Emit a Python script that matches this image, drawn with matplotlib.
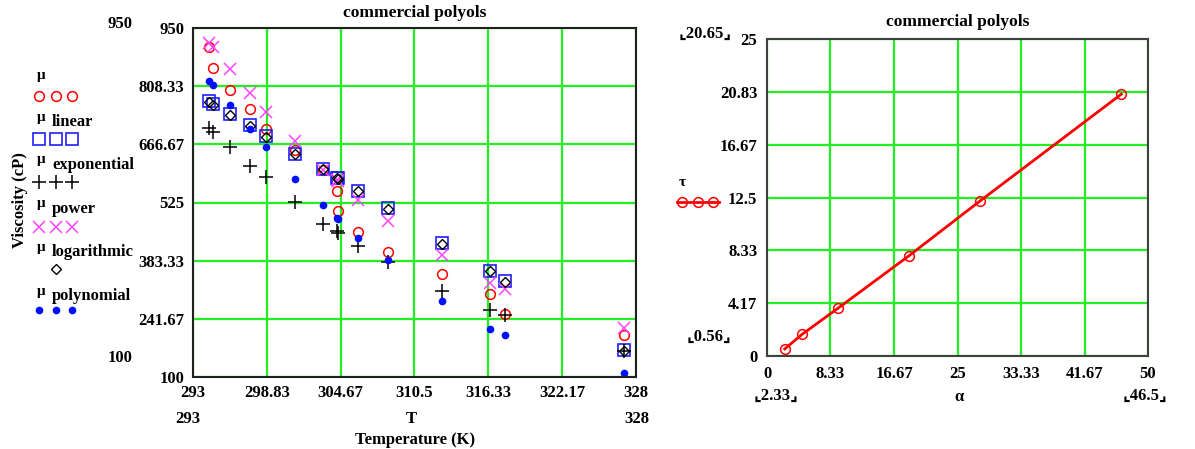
import matplotlib
matplotlib.use("Agg")
import matplotlib.pyplot as plt
from matplotlib.lines import Line2D

# ---------------- data ----------------
T = [294.3, 294.6, 295.95, 297.54, 298.8, 301.07, 303.3, 304.35, 304.45,
     306.0, 308.41, 312.69, 316.46, 317.65, 327.07]
mu = [903, 852, 800, 752, 703, 652, 605, 553, 504, 452, 404, 352, 303, 253, 203]
mu_linear = [772, 764, 740, 713, 686, 644, 607, 585, 584, 553, 512, 426, 359, 334, 165]
mu_exponential = [706, 697, 659, 613, 587, 526, 473, 456, 451, 418, 379, 310, 263, 251, 164]
mu_power = [914, 904, 849, 792, 746, 675, 603, 580, 578, 532, 479, 396, 330, 314, 220]
mu_logarithmic = [770, 762, 738, 711, 684, 643, 606, 584, 583, 552, 510, 424, 357, 332, 163]
mu_polynomial = [821, 812, 762, 703, 660, 583, 518, 488, 486, 439, 385, 286, 217, 202, 110]

T_ticks = [293, 298.83, 304.67, 310.5, 316.33, 322.17, 328]
mu_ticks = [100, 241.67, 383.33, 525, 666.67, 808.33, 950]

alpha = [2.33, 4.65, 9.3, 18.6, 27.9, 46.5]
tau = [0.56, 1.73, 3.76, 7.89, 12.2, 20.65]
alpha_ticks = [0, 8.33, 16.67, 25, 33.33, 41.67, 50]
tau_ticks = [0, 4.17, 8.33, 12.5, 16.67, 20.83, 25]

title = "commercial polyols"

# ---------------- style ----------------
W, H = 1195, 449
plt.rcParams['font.family'] = ['Liberation Serif', 'DejaVu Serif', 'DejaVu Sans']
plt.rcParams['font.weight'] = 'bold'
FS = 12
GREEN = '#22ee22'

fig = plt.figure(figsize=(W / 100, H / 100), dpi=100)


def fx(px):
    return px / W


def fy(py):
    return 1 - py / H


def ftext(px, py, s, **kw):
    kw.setdefault('fontsize', FS)
    kw.setdefault('fontweight', 'bold')
    kw.setdefault('ha', 'center')
    kw.setdefault('va', 'center')
    fig.text(fx(px), fy(py), s, **kw)


# ---------------- left axes ----------------
ax1 = fig.add_axes([fx(193), fy(377), fx(636) - fx(193), fy(28) - fy(377)])
ax1.set_xlim(293, 328)
ax1.set_ylim(100, 950)
ax1.set_xticks(T_ticks)
ax1.set_xticklabels([f"{v:g}" for v in T_ticks])
ax1.set_yticks(mu_ticks)
ax1.set_yticklabels([f"{v:g}" for v in mu_ticks])
ax1.grid(True, color=GREEN, lw=1.6)
ax1.set_axisbelow(True)
ax1.tick_params(length=0, labelsize=FS, pad=6)
for lab in ax1.get_xticklabels() + ax1.get_yticklabels():
    lab.set_fontweight('bold')
for s in ax1.spines.values():
    s.set_color('#202020')
    s.set_linewidth(1.5)

ax1.plot(T, mu, ls='none', marker='o', ms=7, mfc='none', mec='red', mew=1.1)
ax1.plot(T, mu_linear, ls='none', marker='s', ms=8, mfc='none', mec='#1f1fff', mew=1.2)
ax1.plot(T, mu_exponential, ls='none', marker='+', ms=10, mec='black', mew=1.1)
ax1.plot(T, mu_power, ls='none', marker='x', ms=8.5, mec='#ff44ff', mew=1.1)
ax1.plot(T, mu_logarithmic, ls='none', marker='D', ms=5.5, mfc='none', mec='black', mew=1.0)
ax1.plot(T, mu_polynomial, ls='none', marker='o', ms=4.5, mfc='#0010ff', mec='#0010ff')
ax1.set_title(title, fontsize=FS + 0.5, fontweight='bold', pad=8)

# extra Mathcad-style labels (left plot)
ftext(120, 24, "950")
ftext(120, 358, "100")
ftext(188, 419, "293")
ftext(411, 419, "T")
ftext(637, 419, "328")
ftext(415, 440, "Temperature (K)")
ftext(20, 200, "Viscosity (cP)", rotation=90, fontsize=12)

# legend (left)
leg_items = [
    ("", dict(marker='o', ms=7, mfc='none', mec='red', mew=1.1), 3),
    ("linear", dict(marker='s', ms=8, mfc='none', mec='#1f1fff', mew=1.2), 3),
    ("exponential", dict(marker='+', ms=10, mec='black', mew=1.1), 3),
    ("power", dict(marker='x', ms=8.5, mec='#ff44ff', mew=1.1), 3),
    ("logarithmic", dict(marker='D', ms=5.5, mfc='none', mec='black', mew=1.0), 1),
    ("polynomial", dict(marker='o', ms=4.5, mfc='#0010ff', mec='#0010ff'), 3),
]
label_y = [78, 120, 163, 207, 250, 294]
marker_y = [96, 139, 182, 227, 269, 310]
for (name, mk, n), ly, my in zip(leg_items, label_y, marker_y):
    ftext(37, ly - 3, "μ", ha='left', fontsize=11)
    if name:
        ftext(52, ly + 2, name, ha='left')
    xs = [39, 56, 72] if n == 3 else [56]
    fig.add_artist(Line2D([fx(x) for x in xs], [fy(my)] * len(xs),
                          transform=fig.transFigure, ls='none', **mk))

# ---------------- right axes ----------------
ax2 = fig.add_axes([fx(767), fy(356), fx(1148) - fx(767), fy(39) - fy(356)])
ax2.set_xlim(0, 50)
ax2.set_ylim(0, 25)
ax2.set_xticks(alpha_ticks)
ax2.set_xticklabels([f"{v:g}" for v in alpha_ticks])
ax2.set_yticks(tau_ticks)
ax2.set_yticklabels([f"{v:g}" for v in tau_ticks])
ax2.grid(True, color=GREEN, lw=1.6)
ax2.set_axisbelow(True)
ax2.tick_params(length=0, labelsize=FS, pad=7)
for lab in ax2.get_xticklabels() + ax2.get_yticklabels():
    lab.set_fontweight('bold')
for s in ax2.spines.values():
    s.set_color('#404040')
    s.set_linewidth(1.5)
ax2.plot(alpha, tau, color='red', lw=2, marker='o', ms=7, mfc='none', mec='red', mew=1.1)
ax2.set_title(title, fontsize=FS + 0.5, fontweight='bold', pad=9)

ftext(705, 34, "⌞20.65⌟")
ftext(709, 337, "⌞0.56⌟")
ftext(776, 396, "⌞2.33⌟")
ftext(959, 397, "α")
ftext(1145, 396, "⌞46.5⌟")
ftext(682, 182, "τ", fontsize=11)
lx = [677, 682, 698, 713, 719]
fig.add_artist(Line2D([fx(x) for x in lx], [fy(202)] * len(lx),
                      transform=fig.transFigure, color='red', lw=2,
                      marker='o', ms=7, mfc='none', mec='red', mew=1.1,
                      markevery=[1, 2, 3]))

fig.savefig("out.png", dpi=100)
